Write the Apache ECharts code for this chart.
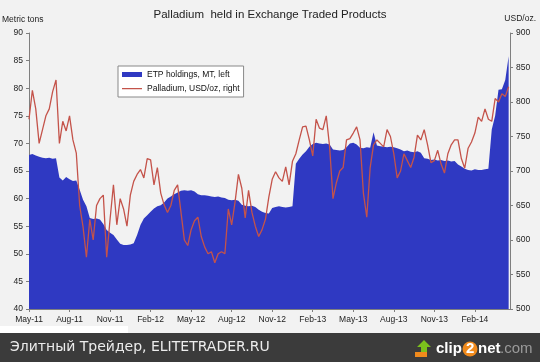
<!DOCTYPE html>
<html><head><meta charset="utf-8">
<script src="https://cdn.jsdelivr.net/npm/echarts@6/dist/echarts.min.js"></script>
<style>html,body{margin:0;padding:0;background:#f2f2f2;}#c{width:540px;height:362px;}</style>
</head><body><div id="c"></div>
<script>
// x positions: months since May-2011, one point every quarter month
const monthStep = 0.25;
const xTickLabels = ['May-11','Aug-11','Nov-11','Feb-12','May-12','Aug-12','Nov-12','Feb-13','May-13','Aug-13','Nov-13','Feb-14'];
const leftTicks = [40,45,50,55,60,65,70,75,80,85,90];
const rightTicks = [500,550,600,650,700,750,800,850,900];

// ETP holdings, metric tons (left axis)
const etpHoldings = [
67.9,68.1,67.8,67.6,67.4,67.3,67.4,67.2,67.3,63.8,
63.3,63.9,63.5,63.2,63.3,61.6,59.8,58.6,56.5,56.3,
56.4,56.2,55.4,54.3,53.8,53.4,52.6,51.8,51.6,51.6,
51.7,51.9,53.4,55.2,56.4,57.0,57.6,58.2,58.6,58.8,
59.3,60.0,60.4,60.8,61.1,61.4,61.5,61.4,61.5,61.3,
60.8,60.6,60.6,60.5,60.4,60.3,60.4,60.2,60.1,59.8,
59.7,59.8,59.6,58.9,58.7,58.6,58.7,58.5,58.0,57.6,
57.4,57.3,58.3,58.5,58.6,58.5,58.4,58.5,58.6,66.3,
67.2,68.0,68.6,69.4,69.9,70.1,70.0,69.9,70.0,69.8,
68.9,68.8,68.7,68.8,69.3,70.0,70.1,69.8,69.2,69.1,
69.3,69.2,72.0,69.6,69.5,69.4,69.3,69.4,69.3,69.1,
68.9,68.6,68.7,68.5,68.4,68.6,68.3,67.3,67.2,67.0,
67.1,66.9,67.0,66.8,66.9,66.7,66.8,66.2,65.8,65.4,
65.2,65.1,65.3,65.2,65.2,65.3,65.4,72.5,75.0,79.7,
79.8,81.5,85.8
];

// Palladium price, USD/oz (right axis)
const palladiumPrice = [
775,817,790,740,760,780,790,815,832,740,
772,758,780,745,726,650,619,575,630,600,
650,660,665,575,630,680,622,660,645,620,
665,685,695,702,690,718,716,680,705,668,
651,640,650,672,680,640,600,592,615,628,
633,605,590,580,583,567,580,583,580,645,
622,655,695,675,632,672,640,620,605,615,
630,662,688,699,690,685,706,680,714,725,
745,764,765,745,722,775,762,760,780,735,
660,683,700,705,745,747,755,764,745,668,
633,705,738,745,740,735,760,750,725,690,
700,725,715,705,720,752,745,760,738,712,
715,730,710,697,725,738,745,745,718,704,
733,742,755,778,772,790,775,772,805,800,
812,808,822
];

const etpData = etpHoldings.map((v, i) => [i * monthStep, v]);
const pdData = palladiumPrice.map((v, i) => [i * monthStep, v]);
const tickMonths = xTickLabels.map((_, i) => i * 3);

const font = 'Liberation Sans, Arial, sans-serif';
const axisGray = '#7f7f7f';
const chart = echarts.init(document.getElementById('c'), null, {renderer: 'canvas'});
chart.setOption({
  animation: false,
  backgroundColor: '#f2f2f2',
  title: {
    text: 'Palladium  held in Exchange Traded Products',
    left: 'center', top: 4,
    textStyle: {fontFamily: font, fontSize: 11.5, fontWeight: 'normal', color: '#222'}
  },
  legend: {
    left: 118, top: 66, orient: 'vertical',
    backgroundColor: '#fff', borderColor: '#888', borderWidth: 1,
    padding: [4, 4, 4, 4], itemGap: 5, itemWidth: 20, itemHeight: 5,
    textStyle: {fontFamily: font, fontSize: 8.5, color: '#111'},
    data: [
      {name: 'ETP holdings, MT, left', icon: 'rect'},
      {name: 'Palladium, USD/oz, right', icon: 'path://M0,0h20v0.01h-20z M0,2.1h20v1.1h-20z M0,5h20v0.01h-20z'}
    ]
  },
  grid: {left: 29, right: 30, top: 33, bottom: 53},
  xAxis: {
    type: 'value', min: 0, max: 35.6, interval: 3,
    axisLine: {show: true, lineStyle: {color: axisGray}},
    axisTick: {show: true, length: 3, lineStyle: {color: axisGray}, customValues: tickMonths},
    axisLabel: {
      fontFamily: font, fontSize: 8.5, color: '#222', margin: 6,
      customValues: tickMonths,
      formatter: v => xTickLabels[Math.round(v / 3)] || ''
    },
    splitLine: {show: false}
  },
  yAxis: [
    {
      type: 'value', min: 40, max: 90, interval: 5, position: 'left',
      axisLine: {show: true, lineStyle: {color: axisGray}},
      axisTick: {show: true, length: 3, lineStyle: {color: axisGray}},
      axisLabel: {fontFamily: font, fontSize: 8.5, color: '#222', margin: 6,
        formatter: v => leftTicks.indexOf(v) >= 0 ? String(v) : ''},
      splitLine: {show: false}
    },
    {
      type: 'value', min: 500, max: 900, interval: 50, position: 'right',
      axisLine: {show: true, lineStyle: {color: axisGray}},
      axisTick: {show: true, length: 3, lineStyle: {color: axisGray}},
      axisLabel: {fontFamily: font, fontSize: 8.5, color: '#222', margin: 6,
        formatter: v => rightTicks.indexOf(v) >= 0 ? String(v) : ''},
      splitLine: {show: false}
    }
  ],
  series: [
    {
      name: 'ETP holdings, MT, left', type: 'line', yAxisIndex: 0,
      data: etpData, showSymbol: false, symbol: 'none',
      lineStyle: {width: 0, color: '#2f39c2'},
      itemStyle: {color: '#2f39c2'},
      areaStyle: {color: '#2f39c2', opacity: 1, origin: 'start'},
      z: 2
    },
    {
      name: 'Palladium, USD/oz, right', type: 'line', yAxisIndex: 1,
      data: pdData, showSymbol: false, symbol: 'none',
      lineStyle: {width: 1.3, color: '#c4534a'},
      itemStyle: {color: '#c4534a'},
      z: 3
    }
  ],
  graphic: [
    {type: 'text', left: 2, top: 15, style: {text: 'Metric tons', font: '8.5px ' + font, fill: '#222'}},
    {type: 'text', right: 4, top: 14, style: {text: 'USD/oz.', font: '8.5px ' + font, fill: '#222'}},
    {type: 'rect', shape: {x: 0, y: 326, width: 128, height: 7}, style: {fill: '#ffffff'}},
    {type: 'rect', shape: {x: 0, y: 333, width: 540, height: 29}, style: {fill: '#3b3b3b'}},
    {type: 'text', x: 10, y: 340, style: {text: 'Элитный Трейдер, ELITETRADER.RU', font: '14px DejaVu Sans, sans-serif', fill: '#ececec'}},
    {type: 'polygon', shape: {points: [[424,340],[431,347],[427,347],[427,354],[421,354],[421,347],[417,347]]}, style: {fill: '#7cc21c'}},
    {type: 'rect', shape: {x: 415, y: 352, width: 12, height: 5}, style: {fill: '#f08a1c'}},
    {type: 'text', x: 436, y: 341, style: {text: 'clip', font: 'bold 15px Liberation Sans, sans-serif', fill: '#ffffff'}},
    {type: 'circle', shape: {cx: 470, cy: 349, r: 7.5}, style: {fill: '#f08a1c'}},
    {type: 'text', x: 466, y: 341, style: {text: '2', font: 'bold 15px Liberation Sans, sans-serif', fill: '#ffffff'}},
    {type: 'text', x: 478, y: 341, style: {text: 'net', font: 'bold 15px Liberation Sans, sans-serif', fill: '#ffffff'}},
    {type: 'text', x: 500, y: 341, style: {text: '.com', font: '15px Liberation Sans, sans-serif', fill: '#9a9a9a'}}
  ]
});
</script></body></html>
